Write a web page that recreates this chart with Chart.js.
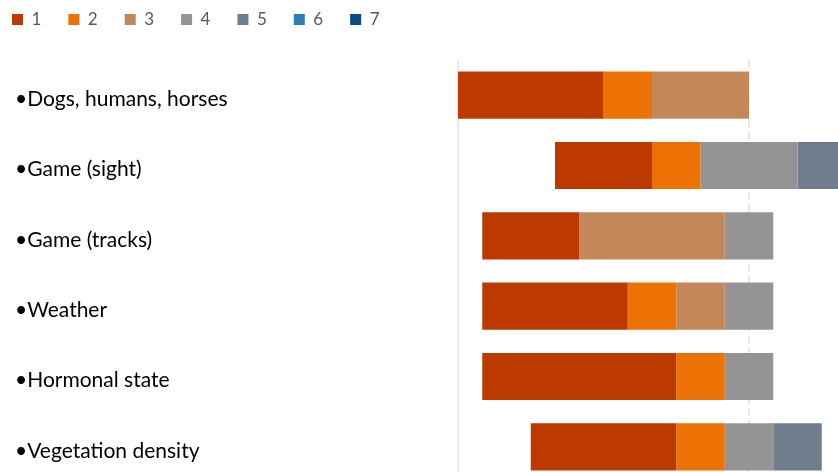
<!DOCTYPE html>
<html lang="en">
<head>
  <meta charset="UTF-8" />
  <title>Ratings</title>
  <script src="https://cdn.jsdelivr.net/npm/chart.js"></script>
  <style>
    html, body { margin: 0; padding: 0; background: #fff; overflow: hidden; }
    canvas { display: block; }
  </style>
</head>
<body>
  <canvas id="chart" width="838" height="482"></canvas>

  <script>
    // categories and scores (number of answers per rating 1..7)
    const categories = ['•Dogs, humans, horses', '•Game (sight)', '•Game (tracks)', '•Weather', '•Hormonal state', '•Vegetation density'];
    const rating1 = [3, 2, 2, 3, 4, 3];
    const rating2 = [1, 1, 0, 1, 1, 1];
    const rating3 = [2, 0, 3, 1, 0, 0];
    const rating4 = [0, 2, 1, 1, 1, 1];
    const rating5 = [0, 1, 0, 0, 0, 1];
    const rating6 = [0, 0, 0, 0, 0, 0];
    const rating7 = [0, 0, 0, 0, 0, 0];
    const legendLabels = ['1', '2', '3', '4', '5', '6', '7'];
    const colors = ['#bc3a00', '#ec7206', '#c3875a', '#949494', '#6f7d8d', '#2d7fb9', '#0b4a85'];

    // diverging layout: rating 4 is centred on the value 6
    const centre = 6;
    const offset = categories.map((c, i) => centre - (rating1[i] + rating2[i] + rating3[i] + rating4[i] / 2));

    const series = [rating1, rating2, rating3, rating4, rating5, rating6, rating7];
    const datasets = [{
      label: 'offset',
      data: offset,
      backgroundColor: 'rgba(0,0,0,0)',
      borderWidth: 0
    }].concat(series.map((d, i) => ({
      label: legendLabels[i],
      data: d,
      backgroundColor: colors[i],
      borderWidth: 0
    })));

    const guideLines = {
      id: 'guideLines',
      beforeDatasetsDraw(chart) {
        const { ctx, chartArea, scales } = chart;
        ctx.save();
        ctx.strokeStyle = '#e2e2e2';
        ctx.lineWidth = 1.5;
        let x = scales.x.getPixelForValue(0);
        ctx.beginPath();
        ctx.moveTo(x, chartArea.top);
        ctx.lineTo(x, chartArea.bottom);
        ctx.stroke();
        x = scales.x.getPixelForValue(centre);
        ctx.setLineDash([8, 4]);
        ctx.beginPath();
        ctx.moveTo(x, chartArea.top);
        ctx.lineTo(x, chartArea.bottom);
        ctx.stroke();
        ctx.restore();
      }
    };

    const legendPlace = {
      id: 'legendPlace',
      beforeInit(chart) {
        const fit = chart.legend.fit;
        chart.legend.fit = function () {
          fit.bind(chart.legend)();
          this.height = 60;
        };
      },
      afterLayout(chart) {
        chart.legend.left = -15;
        chart.legend.top = -16;
      }
    };

    new Chart(document.getElementById('chart'), {
      type: 'bar',
      data: { labels: categories, datasets },
      options: {
        indexAxis: 'y',
        responsive: false,
        animation: false,
        layout: { padding: { left: 15, right: 0, top: 0, bottom: 0 } },
        datasets: { bar: { barPercentage: 1, categoryPercentage: 0.67 } },
        scales: {
          x: { stacked: true, display: false, min: 0, max: 7.835 },
          y: {
            stacked: true,
            grid: { display: false },
            border: { display: false },
            ticks: {
              color: '#000',
              crossAlign: 'far',
              labelOffset: 4,
              font: { family: 'Lato', size: 21 }
            },
            afterFit(scale) {
              scale.width = 443;
              scale.paddingTop = 0;
              scale.paddingBottom = 0;
            }
          }
        },
        plugins: {
          tooltip: { enabled: false },
          legend: {
            position: 'top',
            align: 'start',
            labels: {
              filter: item => item.text !== 'offset',
              boxWidth: 11,
              boxHeight: 11,
              padding: 27,
              color: '#595959',
              font: { family: 'Lato', size: 17 }
            }
          }
        }
      },
      plugins: [guideLines, legendPlace]
    });
  </script>
</body>
</html>
